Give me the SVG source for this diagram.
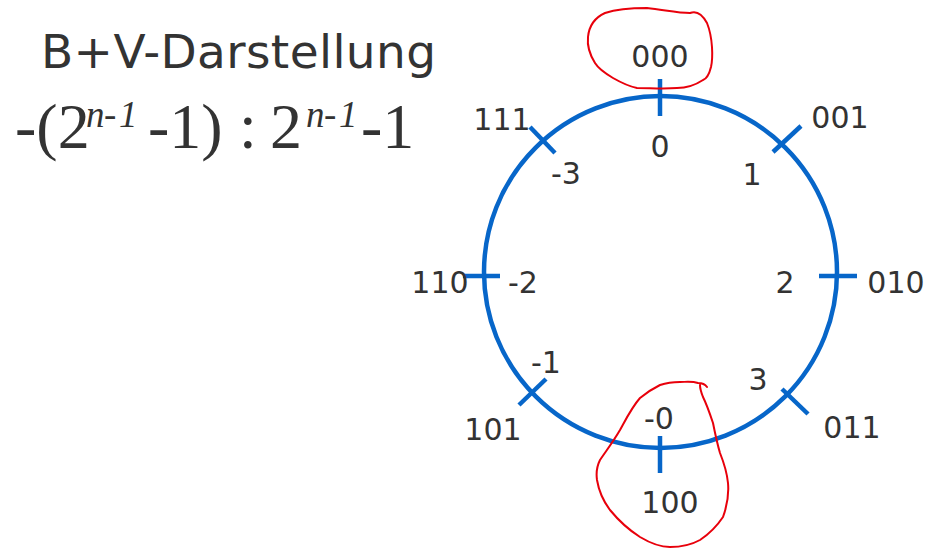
<svg xmlns="http://www.w3.org/2000/svg" width="932" height="548" viewBox="0 0 932 548">
<style>
.lbl{font-family:"DejaVu Sans","Verdana",sans-serif;font-size:30px;fill:#333;text-anchor:middle}
.tick{stroke:#0766c9;stroke-width:4.5;fill:none}
.ring{stroke:#0766c9;stroke-width:4.5;fill:none}
.ink{stroke:#e8000b;stroke-width:2;fill:none;stroke-linecap:round;stroke-linejoin:round}
.f{font-family:"Liberation Serif","Times New Roman",serif;fill:#333}
</style>
<rect width="932" height="548" fill="#fff"/>
<g id="title">
<text x="41" y="68" font-family="DejaVu Sans,Verdana,sans-serif" font-size="47" fill="#333" textLength="395" lengthAdjust="spacing">B+V-Darstellung</text>
</g>
<g id="formula" class="f">
<text font-size="64"><tspan x="15" y="148">-(2</tspan><tspan x="148" y="148">-1)</tspan><tspan x="239" y="148">:</tspan><tspan x="270" y="148">2</tspan><tspan x="361" y="148">-1</tspan></text>
<text font-size="37" font-style="italic"><tspan x="86" y="127">n</tspan><tspan x="104" y="127">-</tspan><tspan x="119" y="127">1</tspan><tspan x="306" y="127">n</tspan><tspan x="324" y="127">-</tspan><tspan x="339" y="127">1</tspan></text>
</g>
<g id="ring">
<ellipse class="ring" cx="660.5" cy="272" rx="176.5" ry="176"/>
</g>
<g id="connectors">
<line class="tick" x1="660" y1="79" x2="660" y2="116"/>
<line class="tick" x1="660" y1="436" x2="660" y2="473"/>
<line class="tick" x1="463" y1="276" x2="500" y2="276"/>
<line class="tick" x1="819" y1="276" x2="857" y2="276"/>
<line class="tick" x1="530" y1="127" x2="555" y2="153"/>
<line class="tick" x1="773" y1="152" x2="801" y2="126"/>
<line class="tick" x1="519" y1="405" x2="546" y2="379"/>
<line class="tick" x1="782" y1="389" x2="808" y2="414"/>
</g>
<g id="n000"><text class="lbl" x="660" y="67">000</text><text class="lbl" x="660" y="157">0</text></g>
<g id="n001"><text class="lbl" x="840" y="128">001</text><text class="lbl" x="752" y="185">1</text></g>
<g id="n010"><text class="lbl" x="896" y="293">010</text><text class="lbl" x="785" y="293">2</text></g>
<g id="n011"><text class="lbl" x="852" y="438">011</text><text class="lbl" x="758" y="390">3</text></g>
<g id="n100"><text class="lbl" x="670" y="513">100</text><text class="lbl" x="659" y="429">-0</text></g>
<g id="n101"><text class="lbl" x="493" y="440">101</text><text class="lbl" x="546" y="373">-1</text></g>
<g id="n110"><text class="lbl" x="440" y="293">110</text><text class="lbl" x="523" y="293">-2</text></g>
<g id="n111"><text class="lbl" x="502" y="130">111</text><text class="lbl" x="566" y="184">-3</text></g>
<g id="marks">
<path class="ink" d="M605,13 C620,8 635,8 647,8 C665,10 678,13 690,13 C695,11 701,12 707,23 C713,38 713,58 711,67 C709,75 706,79 703,80 C694,86 686,88 677,88 C663,89 650,88 637,88 C627,86 620,82 613,78 C603,72 598,68 595,63 C590,55 587,46 588,37 C589,27 594,18 605,13"/>
<path class="ink" d="M707,387 C705,384 702,383 698,383 C692,381 686,382 680,382 C672,382 666,383 660,385 C652,389 646,393 640,398 C632,407 626,419 620,430 C613,442 606,451 600,460 C597,466 596,473 597,480 C599,492 604,502 610,510 C619,521 629,530 640,537 C650,543 660,547 670,547 C681,547 691,545 700,540 C709,534 717,526 723,517 C727,506 729,494 728,483 C727,473 724,463 720,453 C717,443 715,433 713,423 C710,414 707,405 703,397 C701,392 700,388 700,385"/>
</g>
</svg>
